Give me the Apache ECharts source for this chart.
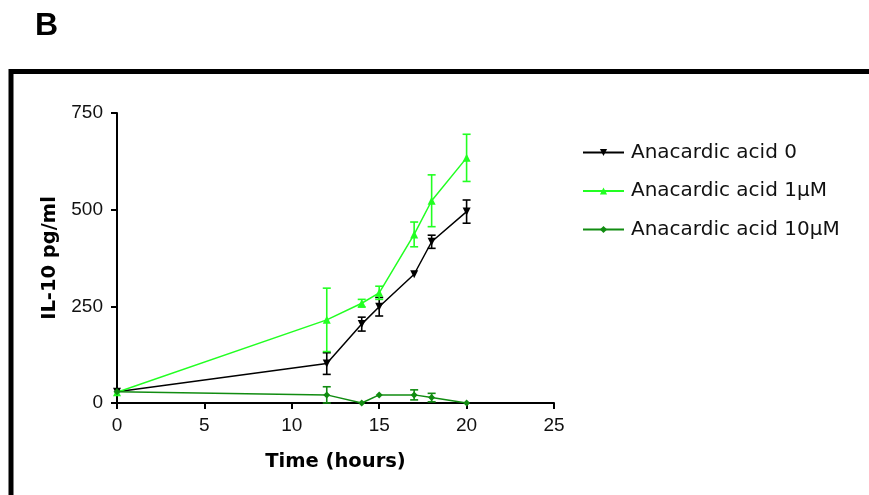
<!DOCTYPE html>
<html>
<head>
<meta charset="utf-8">
<script src="https://cdn.jsdelivr.net/npm/echarts@6/dist/echarts.min.js"></script>
<style>
  html, body { margin: 0; padding: 0; background: #fff; }
  #chart { width: 869px; height: 495px; }
</style>
</head>
<body>
<div id="chart"></div>
<script>
// IL-10 release over time for three anacardic acid doses (mean ± error)
const timeHours = [0, 12, 14, 15, 17, 18, 20];

const seriesNames = ['Anacardic acid 0', 'Anacardic acid 1\u03bcM', 'Anacardic acid 10\u03bcM'];

const il10Dose0 = [29, 102, 204, 249, 333, 417, 495];
const errDose0  = [0, 28, 18, 24, 0, 17, 30];

const il10Dose1 = [28, 215, 258, 285, 436, 523, 634];
const errDose1  = [0, 82, 10, 17, 32, 67, 61];

const il10Dose10 = [29, 21, 0, 21, 21, 14, 0];
const errDose10  = [0, 21, 0, 0, 13, 11, 0];

const xTicks = [0, 5, 10, 15, 20, 25];
const yTicks = [0, 250, 500, 750];

const colors = ['#000000', '#22ff22', '#118c11'];
const symbols = [
  'path://M0,0 L10,0 L5,10 Z',   // inverted triangle
  'triangle',
  'diamond'
];

const chart = echarts.init(document.getElementById('chart'), null, { renderer: 'canvas' });

function pairs(values) {
  return timeHours.map((t, i) => [t, values[i]]);
}

function errRows(values, errs) {
  return timeHours
    .map((t, i) => [t, values[i] - errs[i], values[i] + errs[i]])
    .filter((r, i) => errs[i] > 0);
}

function errorBarSeries(values, errs, color) {
  return {
    type: 'custom',
    silent: true,
    z: 3,
    data: errRows(values, errs),
    renderItem: function (params, api) {
      const x = api.value(0);
      const lo = api.coord([x, api.value(1)]);
      const hi = api.coord([x, api.value(2)]);
      const cap = 4;
      const style = { stroke: color, lineWidth: 1.6 };
      return {
        type: 'group',
        children: [
          { type: 'line', shape: { x1: lo[0], y1: lo[1], x2: hi[0], y2: hi[1] }, style: style },
          { type: 'line', shape: { x1: hi[0] - cap, y1: hi[1], x2: hi[0] + cap, y2: hi[1] }, style: style },
          { type: 'line', shape: { x1: lo[0] - cap, y1: lo[1], x2: lo[0] + cap, y2: lo[1] }, style: style }
        ]
      };
    }
  };
}

const lineValues = [il10Dose0, il10Dose1, il10Dose10];
const lineErrs = [errDose0, errDose1, errDose10];

const lineSeries = lineValues.map((vals, k) => ({
  name: seriesNames[k],
  type: 'line',
  data: pairs(vals),
  z: 4,
  symbol: symbols[k],
  symbolSize: k === 2 ? 7 : 8,
  showAllSymbol: true,
  lineStyle: { color: colors[k], width: 1.5 },
  itemStyle: { color: colors[k] },
  emphasis: { disabled: true },
  animation: false
}));

const errSeries = lineValues.map((vals, k) => errorBarSeries(vals, lineErrs[k], colors[k]));

const axisFont = { fontFamily: 'Liberation Sans', fontSize: 19, color: '#111' };
const titleFont = { fontFamily: 'DejaVu Sans', fontWeight: 'bold', fontSize: 19.5, color: '#000' };

chart.setOption({
  animation: false,
  backgroundColor: '#ffffff',
  grid: { left: 117, right: 315, top: 113, bottom: 92, containLabel: false },
  graphic: [
    {
      type: 'rect',
      shape: { x: 11, y: 71.5, width: 920, height: 500 },
      style: { fill: 'none', stroke: '#000', lineWidth: 5 },
      z: 0
    },
    {
      type: 'text',
      x: 35,
      y: 26.5,
      style: {
        text: 'B',
        fontFamily: 'Liberation Sans',
        fontWeight: 'bold',
        fontSize: 32,
        fill: '#000',
        verticalAlign: 'middle'
      }
    }
  ],
  legend: {
    orient: 'vertical',
    left: 582,
    top: 142.5,
    padding: 0,
    itemWidth: 41,
    itemHeight: 9,
    itemGap: 18.5,
    textStyle: { fontFamily: 'DejaVu Sans', fontSize: 20, color: '#111', lineHeight: 20, padding: [0, 0, 0, 2] },
    data: seriesNames
  },
  xAxis: {
    type: 'value',
    min: xTicks[0],
    max: xTicks[xTicks.length - 1],
    interval: 5,
    name: 'Time (hours)',
    nameLocation: 'middle',
    nameGap: 49,
    nameTextStyle: titleFont,
    axisLine: { show: true, lineStyle: { color: '#000', width: 2 } },
    axisTick: { show: true, inside: false, length: 6, lineStyle: { color: '#000', width: 2 } },
    axisLabel: Object.assign({ margin: 13 }, axisFont),
    splitLine: { show: false }
  },
  yAxis: {
    type: 'value',
    min: yTicks[0],
    max: yTicks[yTicks.length - 1],
    interval: 250,
    name: 'IL-10 pg/ml',
    nameLocation: 'middle',
    nameGap: 57,
    nameTextStyle: titleFont,
    axisLine: { show: true, lineStyle: { color: '#000', width: 2 } },
    axisTick: { show: true, inside: false, length: 6, lineStyle: { color: '#000', width: 2 } },
    axisLabel: Object.assign({ margin: 14 }, axisFont),
    splitLine: { show: false }
  },
  series: lineSeries.concat(errSeries)
});
</script>
</body>
</html>
